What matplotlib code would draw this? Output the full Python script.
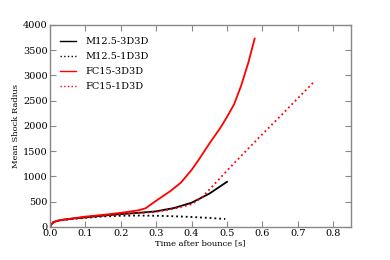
import matplotlib
matplotlib.use("Agg")
import matplotlib.pyplot as plt

plt.rcParams['font.family'] = ['DejaVu Serif']

m_3d_t = [0.0, 0.005, 0.01, 0.02, 0.04, 0.07, 0.1, 0.15, 0.2, 0.25, 0.3, 0.35, 0.4, 0.45, 0.5]
m_3d_r = [0, 60, 95, 120, 145, 170, 190, 225, 255, 280, 310, 375, 480, 660, 895]

m_1d_t = [0.0, 0.005, 0.01, 0.02, 0.04, 0.07, 0.1, 0.15, 0.2, 0.25, 0.3, 0.35, 0.4, 0.45, 0.495]
m_1d_r = [0, 60, 95, 118, 140, 162, 180, 208, 222, 226, 222, 212, 198, 180, 158]

f_3d_t = [0.0, 0.005, 0.01, 0.02, 0.04, 0.07, 0.1, 0.15, 0.2, 0.25, 0.27, 0.3, 0.34, 0.37,
          0.4, 0.42, 0.45, 0.48, 0.5, 0.52, 0.54, 0.56, 0.578]
f_3d_r = [0, 60, 95, 122, 148, 175, 205, 240, 280, 330, 370, 520, 710, 880,
          1130, 1330, 1650, 1950, 2180, 2430, 2800, 3250, 3730]

f_1d_t = [0.0, 0.005, 0.01, 0.02, 0.04, 0.07, 0.1, 0.15, 0.2, 0.25, 0.3, 0.35, 0.4, 0.43,
          0.47, 0.51, 0.55, 0.6, 0.65, 0.7, 0.745]
f_1d_r = [0, 60, 95, 120, 145, 170, 195, 228, 255, 275, 300, 360, 450, 590,
          890, 1190, 1480, 1840, 2190, 2550, 2870]

labels = ['M12.5-3D3D', 'M12.5-1D3D', 'FC15-3D3D', 'FC15-1D3D']

fig = plt.figure(figsize=(3.9, 2.6), dpi=100)
ax = fig.add_axes([0.128, 0.127, 0.772, 0.777])

ax.plot(m_3d_t, m_3d_r, color='black', lw=1.3, ls='-', label=labels[0])
ax.plot(m_1d_t, m_1d_r, color='black', lw=1.3, ls=':', label=labels[1])
ax.plot(f_3d_t, f_3d_r, color='red', lw=1.3, ls='-', label=labels[2])
ax.plot(f_1d_t, f_1d_r, color='red', lw=1.3, ls=':', label=labels[3])

ax.set_xlim(0, 0.85)
ax.set_ylim(0, 4000)
ax.set_xticks([0.0, 0.1, 0.2, 0.3, 0.4, 0.5, 0.6, 0.7, 0.8])
ax.set_yticks([0, 500, 1000, 1500, 2000, 2500, 3000, 3500, 4000])
ax.set_xlabel('Time after bounce [s]', fontsize=6, labelpad=1)
ax.set_ylabel('Mean Shock Radius', fontsize=6, labelpad=2)

for s in ax.spines.values():
    s.set_color('#888888')
    s.set_linewidth(1.0)
ax.tick_params(direction='in', length=4, width=0.8, color='#888888',
               top=True, right=True, labelsize=7, pad=1.5)

leg = ax.legend(loc='upper left', frameon=False, fontsize=7, handlelength=1.65,
                labelspacing=0.62, borderaxespad=0.0, handletextpad=0.95,
                borderpad=0.0, bbox_to_anchor=(0.035, 0.94))
for h in leg.legend_handles:
    h.set_linewidth(1.0)

fig.savefig('out.png', dpi=100)
